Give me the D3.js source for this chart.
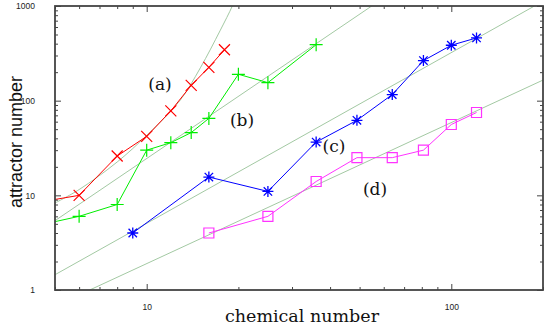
<!DOCTYPE html>
<html>
<head>
<meta charset="utf-8">
<script src="https://cdn.jsdelivr.net/npm/d3@7"></script>
<style>
  html, body { margin: 0; padding: 0; background: #fff; }
  svg { display: block; }
</style>
</head>
<body>
<svg id="chart" width="545" height="327"></svg>
<script>
// ---- Data ----
const chemA = [4, 6, 8, 10, 12, 14, 16, 18];
const attrA = [8, 10, 26, 42, 78, 145, 225, 345];

const chemB = [4, 6, 8, 10, 12, 14, 16, 20, 25, 36];
const attrB = [4.5, 6, 8, 30, 36, 46, 65, 190, 155, 390];

const chemC = [9, 16, 25, 36, 49, 64, 81, 100, 121];
const attrC = [4, 15.6, 11, 36.5, 62, 116, 265, 385, 460];

const chemD = [16, 25, 36, 49, 64, 81, 100, 121];
const attrD = [4, 6, 14, 25, 25, 30, 56, 75];

// reference (fit) curves
const fitAx = [5, 6, 8, 10, 12.85, 15, 17.4, 19.1, 19.6];
const fitAy = [8.3, 11.5, 22.5, 43, 100, 222, 546, 1000, 1250];
const fitBx = [5, 54.8];
const fitBy = [5.4, 1000];
const fitCx = [5, 187.5];
const fitCy = [1.45, 1000];
const fitDx = [6.5, 200];
const fitDy = [1, 165];

const seriesLabels = ["(a)", "(b)", "(c)", "(d)"];
const labelX = [11.06, 20.55, 41.2, 56.2];
const labelY = [129.6, 54.0, 28.7, 10.08];

const xTickLabels = [10, 100];
const yTickLabels = [1, 10, 100, 1000];

// ---- Layout ----
const svg = d3.select("#chart");
const L = 55, R = 543, T = 6, B = 290;
const x = d3.scaleLog().domain([5, 200]).range([L, R]);
const y = d3.scaleLog().domain([1, 1000]).range([B, T]);

svg.append("defs").append("clipPath").attr("id", "clip")
  .append("rect").attr("x", L).attr("y", T).attr("width", R - L).attr("height", B - T);

const plot = svg.append("g").attr("clip-path", "url(#clip)");

// fit lines
const fitColor = "#a3c9a3";
const lineGen = d3.line().x(d => x(d[0])).y(d => y(d[1]));
const curveGen = d3.line().x(d => x(d[0])).y(d => y(d[1])).curve(d3.curveCatmullRom.alpha(0.5));
const zip = (a, b) => a.map((v, i) => [v, b[i]]);

plot.append("path").attr("d", curveGen(zip(fitAx, fitAy)))
  .attr("fill", "none").attr("stroke", fitColor).attr("stroke-width", 1);
[[fitBx, fitBy], [fitCx, fitCy], [fitDx, fitDy]].forEach(([xs, ys]) => {
  plot.append("path").attr("d", lineGen(zip(xs, ys)))
    .attr("fill", "none").attr("stroke", fitColor).attr("stroke-width", 1);
});

// data series
const series = [
  { xs: chemA, ys: attrA, color: "#ff0000", marker: "x" },
  { xs: chemB, ys: attrB, color: "#00ee00", marker: "plus" },
  { xs: chemC, ys: attrC, color: "#0000ff", marker: "star" },
  { xs: chemD, ys: attrD, color: "#ff33ff", marker: "square" }
];

function markerPath(type) {
  const p = d3.path();
  if (type === "x") {
    const s = 5.5;
    p.moveTo(-s, -s); p.lineTo(s, s); p.moveTo(-s, s); p.lineTo(s, -s);
  } else if (type === "plus") {
    const s = 6.5;
    p.moveTo(-s, 0); p.lineTo(s, 0); p.moveTo(0, -s); p.lineTo(0, s);
  } else if (type === "star") {
    const s = 5.5, d = 4.2;
    p.moveTo(-s, 0); p.lineTo(s, 0); p.moveTo(0, -s); p.lineTo(0, s);
    p.moveTo(-d, -d); p.lineTo(d, d); p.moveTo(-d, d); p.lineTo(d, -d);
  } else {
    const s = 5;
    p.rect(-s, -s, 2 * s, 2 * s);
  }
  return p.toString();
}

series.forEach(s => {
  const pts = zip(s.xs, s.ys);
  plot.append("path").attr("d", lineGen(pts))
    .attr("fill", "none").attr("stroke", s.color).attr("stroke-width", 1);
  plot.selectAll(null).data(pts).enter().append("path")
    .attr("transform", d => `translate(${x(d[0])},${y(d[1])})`)
    .attr("d", markerPath(s.marker))
    .attr("fill", "none").attr("stroke", s.color)
    .attr("stroke-width", s.marker === "star" ? 1.3 : 1.2);
});

// series labels
svg.selectAll(null).data(seriesLabels).enter().append("text")
  .attr("x", (d, i) => x(labelX[i]))
  .attr("y", (d, i) => y(labelY[i]))
  .attr("text-anchor", "middle")
  .attr("font-family", "'DejaVu Serif', serif")
  .attr("font-size", 17)
  .attr("fill", "#111")
  .text(d => d);

// ---- Axes ----
const axisColor = "#444";
const xMinor = [];
[1, 10, 100].forEach(dec => { for (let k = 1; k <= 9; k++) { const v = k * dec; if (v >= 5 && v <= 200) xMinor.push(v); } });
const yMinor = [];
[1, 10, 100].forEach(dec => { for (let k = 1; k <= 9; k++) yMinor.push(k * dec); });
yMinor.push(1000);

function styleAxis(g) {
  g.select(".domain").remove();
  g.selectAll(".tick line").attr("stroke", axisColor).attr("stroke-width", 1);
  g.selectAll(".tick text").attr("font-family", "'Liberation Sans', Arial, sans-serif")
    .attr("font-size", 8.5).attr("fill", "#222");
}

const isMajor = v => Math.abs(Math.log10(v) - Math.round(Math.log10(v))) < 1e-9;

// bottom
svg.append("g").attr("transform", `translate(0,${B})`)
  .call(d3.axisBottom(x).tickValues(xMinor.filter(v => !isMajor(v))).tickSize(-3).tickFormat(""))
  .call(styleAxis);
svg.append("g").attr("transform", `translate(0,${B})`)
  .call(d3.axisBottom(x).tickValues(xTickLabels).tickSize(-6).tickPadding(14).tickFormat(d3.format("d")))
  .call(styleAxis);
// top
svg.append("g").attr("transform", `translate(0,${T})`)
  .call(d3.axisTop(x).tickValues(xMinor.filter(v => !isMajor(v))).tickSize(-3).tickFormat(""))
  .call(styleAxis);
svg.append("g").attr("transform", `translate(0,${T})`)
  .call(d3.axisTop(x).tickValues(xTickLabels).tickSize(-6).tickFormat(""))
  .call(styleAxis);
// left
svg.append("g").attr("transform", `translate(${L},0)`)
  .call(d3.axisLeft(y).tickValues(yMinor.filter(v => !isMajor(v))).tickSize(-3).tickFormat(""))
  .call(styleAxis);
svg.append("g").attr("transform", `translate(${L},0)`)
  .call(d3.axisLeft(y).tickValues(yTickLabels).tickSize(-6).tickPadding(20).tickFormat(d3.format("d")))
  .call(styleAxis);
// right
svg.append("g").attr("transform", `translate(${R},0)`)
  .call(d3.axisRight(y).tickValues(yMinor.filter(v => !isMajor(v))).tickSize(-3).tickFormat(""))
  .call(styleAxis);
svg.append("g").attr("transform", `translate(${R},0)`)
  .call(d3.axisRight(y).tickValues(yTickLabels).tickSize(-6).tickFormat(""))
  .call(styleAxis);

// frame
svg.append("rect").attr("x", L).attr("y", T).attr("width", R - L).attr("height", B - T)
  .attr("fill", "none").attr("stroke", axisColor).attr("stroke-width", 1.8);

// axis titles
svg.append("text")
  .attr("x", 302).attr("y", 322)
  .attr("text-anchor", "middle")
  .attr("font-family", "'DejaVu Serif', serif")
  .attr("font-size", 17.5)
  .attr("fill", "#111")
  .text("chemical number");

svg.append("text")
  .attr("transform", `translate(22,142) rotate(-90)`)
  .attr("text-anchor", "middle")
  .attr("font-family", "'Liberation Sans', Arial, sans-serif")
  .attr("font-size", 18)
  .attr("fill", "#111")
  .text("attractor number");
</script>
</body>
</html>
